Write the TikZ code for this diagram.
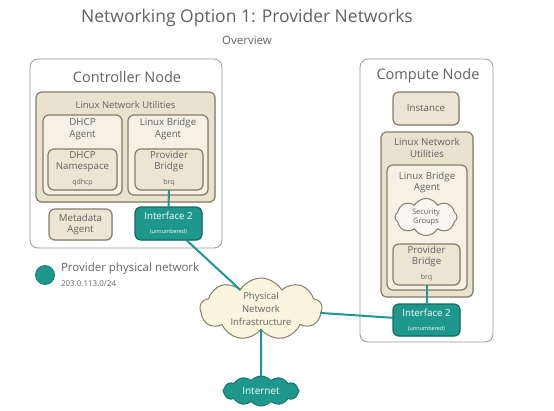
\documentclass[tikz,border=0pt]{standalone}
\usepackage{fontspec}
\setmainfont{Open Sans}
\usetikzlibrary{shapes.symbols,shadows}
\definecolor{txt}{HTML}{626262}
\definecolor{bord}{HTML}{857E6B}
\definecolor{outer}{HTML}{9A9A9A}
\definecolor{beige}{HTML}{E9E2CF}
\definecolor{light}{HTML}{F5F1E5}
\definecolor{mid}{HTML}{ECE5D3}
\definecolor{teal}{HTML}{1E978C}
\definecolor{cloudy}{HTML}{FBF4DE}
\begin{document}
\begin{tikzpicture}[x=1pt,y=-1pt,
  every node/.style={inner sep=0pt,outer sep=0pt,text=txt},
  shade1/.style={drop shadow={shadow xshift=0.8pt,shadow yshift=-0.8pt,opacity=0.25}},
  hostbox/.style={draw=outer,line width=0.8pt,fill=white,rounded corners=8pt},
  utilbox/.style={draw=bord,line width=1.2pt,fill=beige,rounded corners=6pt,shade1},
  agentbox/.style={draw=bord,line width=1.2pt,fill=light,rounded corners=6pt,shade1},
  innerbox/.style={draw=bord,line width=1.2pt,fill=mid,rounded corners=6pt,shade1},
  ifbox/.style={draw=teal!70!black,line width=1.2pt,fill=teal,rounded corners=6pt,shade1},
  cloudnode/.style={cloud,cloud puffs=9,cloud puff arc=120,cloud ignores aspect,draw=bord,line width=1pt},
  link/.style={draw=teal,line width=2pt},
  lbl/.style={font=\fontsize{9.7}{11.5}\selectfont,align=center},
  small/.style={font=\fontsize{7}{8}\selectfont}
]
\useasboundingbox (0,0) rectangle (554,410);

% title
\node[font=\fontsize{17.5}{20}\selectfont] (title) at (247,18) {Networking Option 1: Provider Networks};
\node[font=\fontsize{11.5}{13}\selectfont] (sub) at (247,40) {Overview};

% controller node
\node[hostbox,minimum width=192pt,minimum height=189pt] (ctrl) at (126,153.5) {};
\node[font=\fontsize{14.5}{16}\selectfont] (ctrlt) at (127,77) {Controller Node};
\node[utilbox,minimum width=179pt,minimum height=110pt] (clnu) at (125.5,147) {};
\node[font=\fontsize{9.5}{11}\selectfont] (clnut) at (125.5,104.5) {Linux Network Utilities};
\node[agentbox,minimum width=79pt,minimum height=80pt] (dhcpa) at (82.5,155) {};
\node[lbl,anchor=north] (dhcpat) at (82.5,118.5) {DHCP\\Agent};
\node[innerbox,minimum width=69pt,minimum height=41pt] (dhcpn) at (82.5,169.5) {};
\node[lbl,anchor=north] (dhcpnt) at (82.5,151) {DHCP\\Namespace};
\node[small] (dhcpns) at (82.5,183) {qdhcp};
\node[agentbox,minimum width=80pt,minimum height=80pt] (clba) at (168,155) {};
\node[lbl,anchor=north] (clbat) at (168,118.5) {Linux Bridge\\Agent};
\node[innerbox,minimum width=68pt,minimum height=41pt] (cpb) at (169,169.5) {};
\node[lbl,anchor=north] (cpbt) at (169,151) {Provider\\Bridge};
\node[small] (cpbs) at (169,183) {brq};
\node[innerbox,minimum width=63pt,minimum height=31pt] (meta) at (80.5,224.5) {};
\node[lbl] (metat) at (80.5,224.5) {Metadata\\Agent};
\node[ifbox,minimum width=67pt,minimum height=33pt] (cif) at (168.5,223.5) {};
\node[lbl,text=white,anchor=north] (cift) at (168.5,212.5) {Interface 2};
\node[font=\fontsize{5.5}{6}\selectfont,text=white] (cifs) at (168.5,232) {(unnumbered)};

% compute node
\node[hostbox,minimum width=133pt,minimum height=283pt] (comp) at (426.5,200.5) {};
\node[font=\fontsize{14.5}{16}\selectfont] (compt) at (428,76) {Compute Node};
\node[innerbox,minimum width=66pt,minimum height=33pt] (inst) at (426,108.5) {};
\node[lbl] (instt) at (426,108.5) {Instance};
\node[utilbox,minimum width=92pt,minimum height=165pt] (knu) at (427,214.5) {};
\node[lbl,anchor=north] (knut) at (427,138.5) {Linux Network\\Utilities};
\node[agentbox,minimum width=80pt,minimum height=125pt] (kba) at (427,227.5) {};
\node[lbl,anchor=north] (kbat) at (427,172) {Linux Bridge\\Agent};
\node[cloudnode,cloud puffs=8,fill=light!60!white,minimum width=62pt,minimum height=37pt] (sg) at (426,217) {};
\node[font=\fontsize{7.5}{9.5}\selectfont,align=center] (sgt) at (426,217) {Security\\Groups};
\node[innerbox,minimum width=67pt,minimum height=41pt] (kpb) at (426.5,264.5) {};
\node[lbl,anchor=north] (kpbt) at (426.5,246) {Provider\\Bridge};
\node[small] (kpbs) at (426.5,278) {brq};
\node[ifbox,minimum width=67pt,minimum height=32pt] (kif) at (426.5,320) {};
\node[lbl,text=white,anchor=north] (kift) at (426.5,309) {Interface 2};
\node[font=\fontsize{5.5}{6}\selectfont,text=white] (kifs) at (426.5,328.5) {(unnumbered)};

% legend
\node[circle,fill=teal,draw=teal!80!black,line width=0.8pt,minimum size=19pt] (legc) at (45,275) {};
\node[font=\fontsize{11.5}{13}\selectfont,anchor=west] (legt) at (61,269) {Provider physical network};
\node[font=\fontsize{8}{9}\selectfont,anchor=west] (legs) at (61,284) {203.0.113.0/24};

% clouds
\node[cloudnode,fill=cloudy,minimum width=122pt,minimum height=62pt] (pni) at (261,309) {};
\node[font=\fontsize{9.5}{13}\selectfont,align=center] (pnit) at (261,308.5) {Physical\\Network\\Infrastructure};
\node[cloudnode,cloud puffs=12,cloud puff arc=100,fill=teal,draw=teal!80!black,minimum width=76pt,minimum height=30pt] (inet) at (261,391) {};
\node[font=\fontsize{10}{11}\selectfont,text=white] (inett) at (261,391) {Internet};

% links
\draw[link] (cpb.south) -- (cif.north);
\draw[link] (kpb.south) -- (kif.north);
\draw[link] (cif) -- (pni);
\draw[link] (pni) -- (kif);
\draw[link] (pni) -- (inet);
\end{tikzpicture}
\end{document}
